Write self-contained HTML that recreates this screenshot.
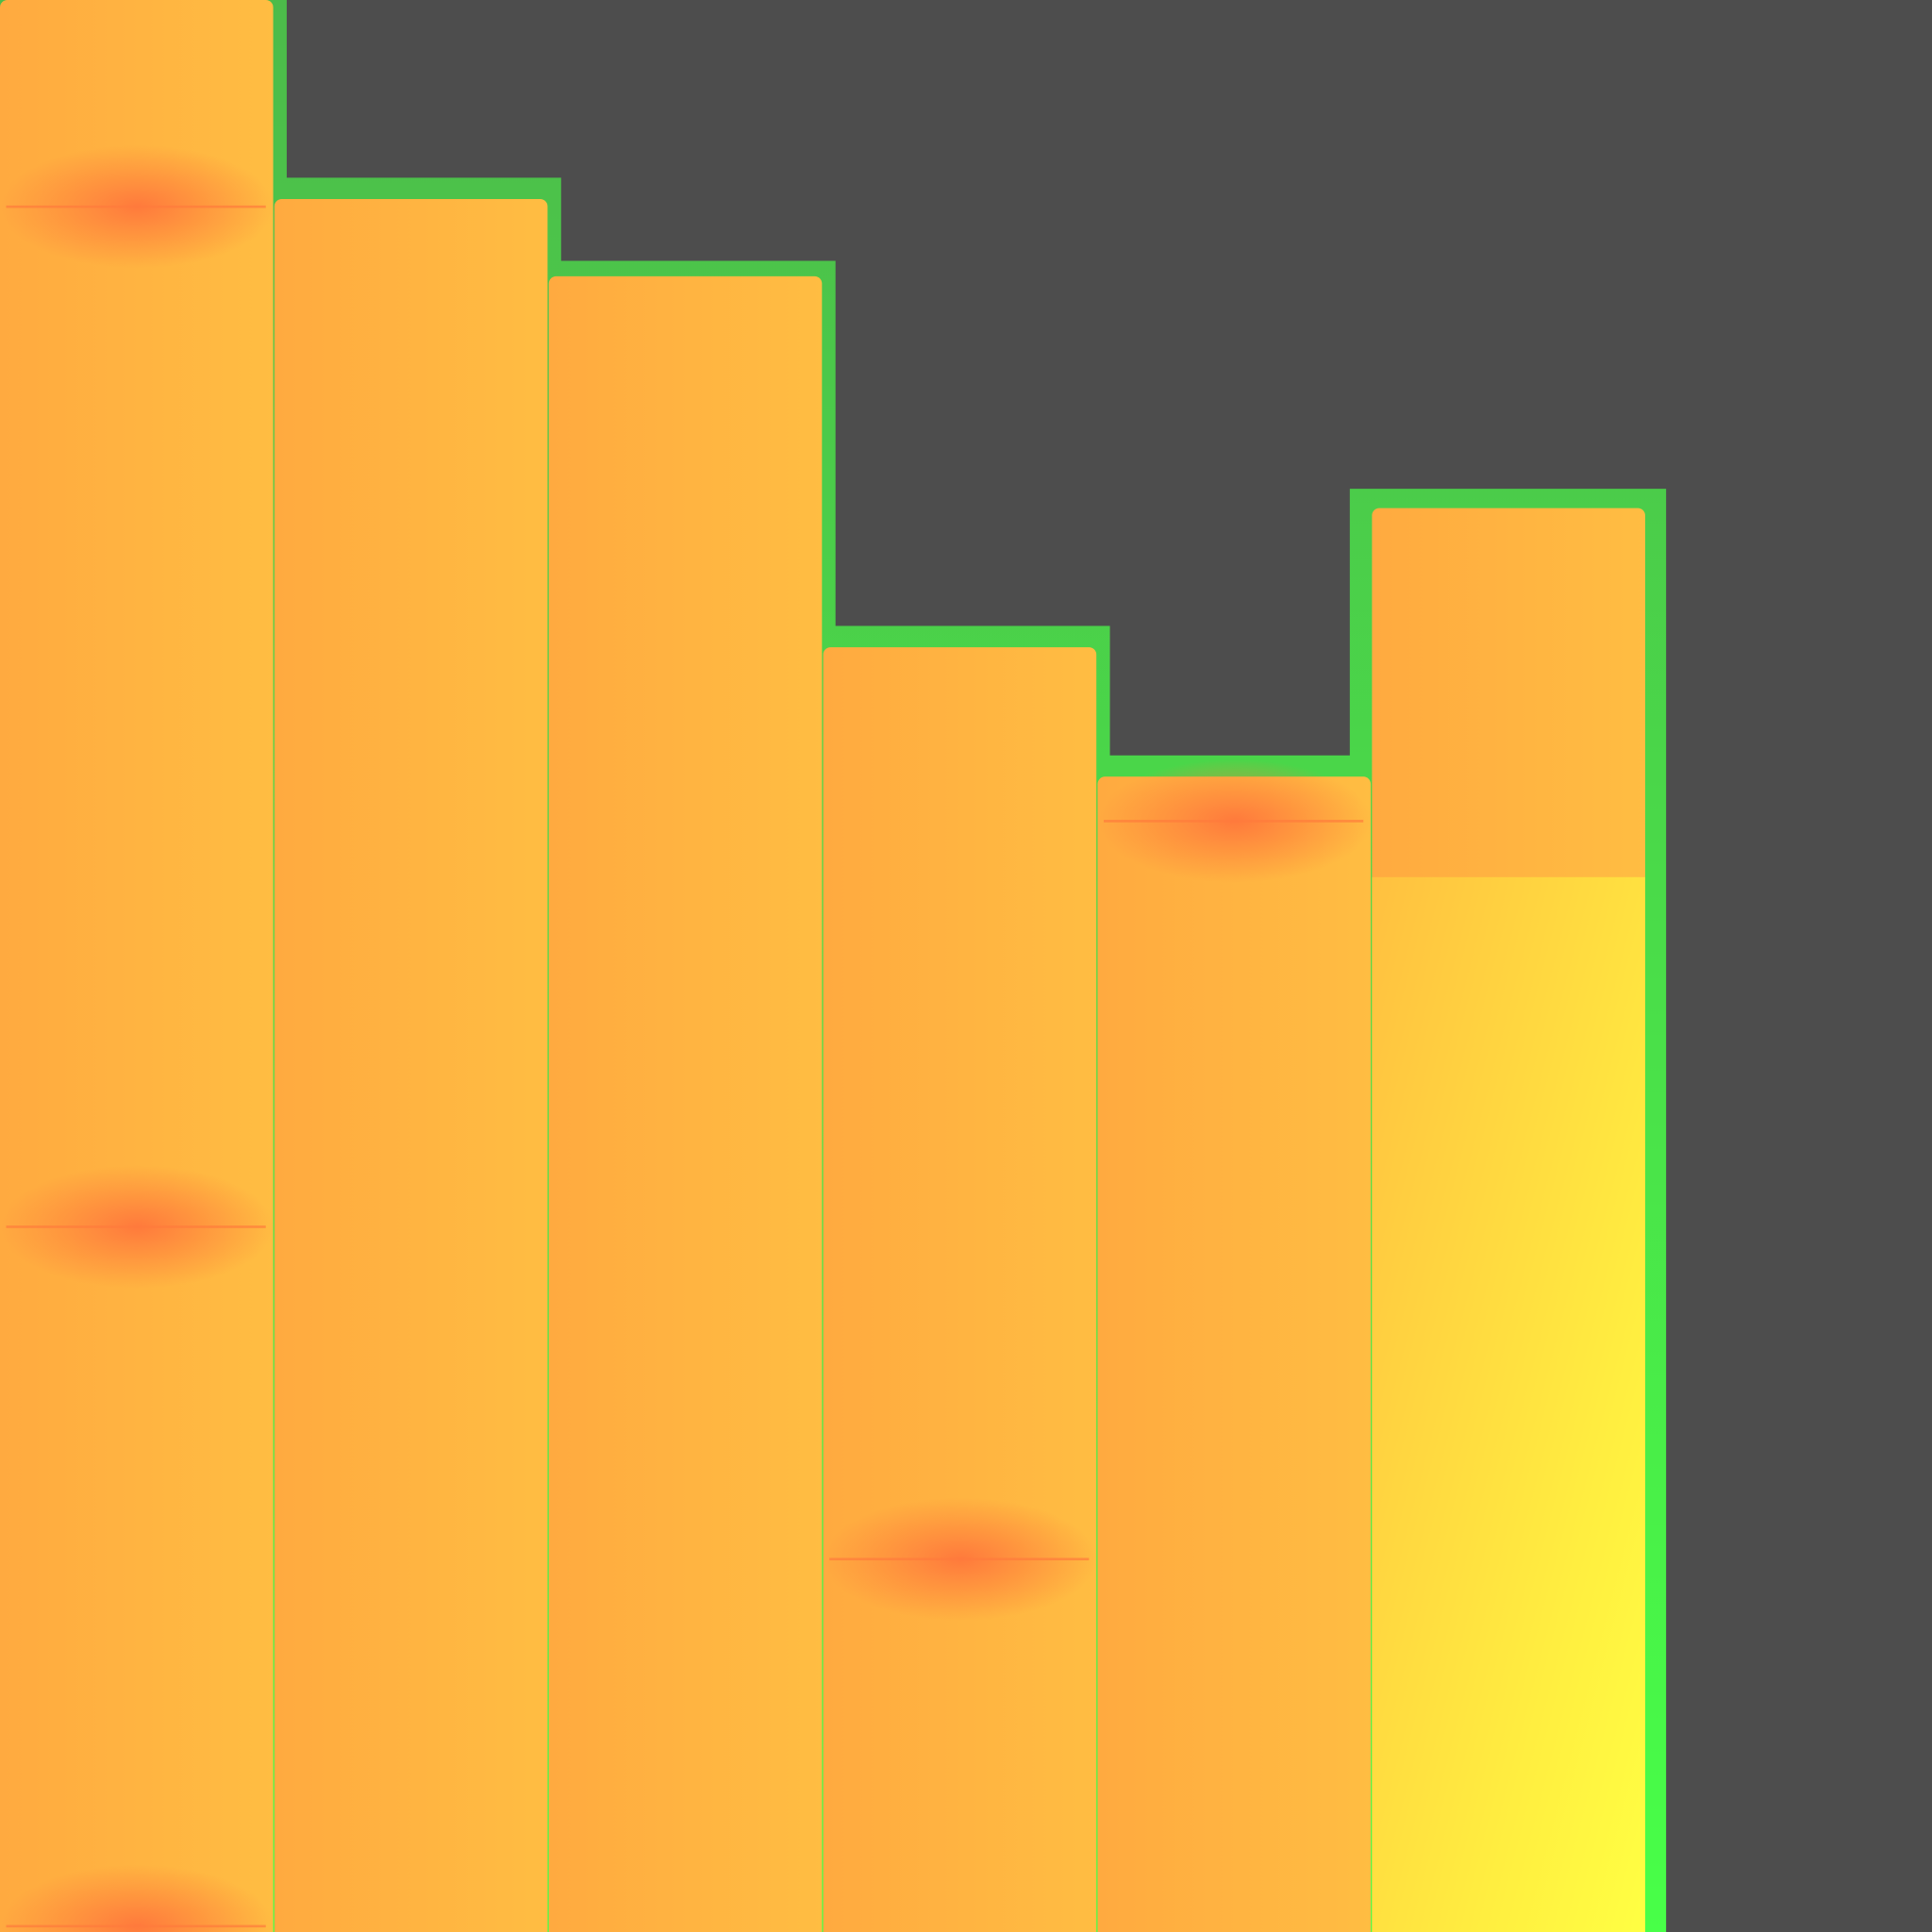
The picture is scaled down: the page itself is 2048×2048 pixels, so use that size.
<!DOCTYPE html>
<html><head><meta charset="utf-8"><style>
html,body{margin:0;padding:0;background:#4d4d4d;}
svg{display:block;}
</style></head><body>
<svg id="chart" width="2048" height="2048" viewBox="0 0 1568 1568" xmlns="http://www.w3.org/2000/svg">
<defs>
<linearGradient id="og" x1="0" y1="0" x2="1" y2="0"><stop offset="0" stop-color="#ffaa40"/><stop offset="1" stop-color="#ffbd42"/></linearGradient>
<linearGradient id="yg" x1="0" y1="0" x2="1" y2="1"><stop offset="0" stop-color="#ffc040"/><stop offset="0.7" stop-color="#ffee40"/><stop offset="1" stop-color="#ffff42"/></linearGradient>
<radialGradient id="rb" cx="0.5" cy="0.5" r="0.5"><stop offset="0" stop-color="#ff7a3c" stop-opacity="1"/><stop offset="1" stop-color="#ff7a3c" stop-opacity="0"/></radialGradient>
<linearGradient id="gg" x1="0" y1="0" x2="0" y2="1"><stop offset="0" stop-color="#4cbb4a"/><stop offset="1" stop-color="#48ff48"/></linearGradient>
</defs>
<rect width="1568" height="1568" fill="#4d4d4d"/>
<g id="outline"></g>
<g id="bars"></g>
<g id="bands"></g>
</svg>
<script>
const categories = ["A","B","C","D","E","F"];
const values = [100, 89.7, 85.7, 66.5, 59.8, 73.7];
const outlineValues = [100, 90.8, 86.5, 67.6, 60.9, 74.7];
const split = [null, null, null, null, null, 54.6];
const bandValues = [[89.3, 36.5, 0.3], [], [], [19.3], [57.5], []];

const H = 1568, left = 0, bw = 222.7;
function y(v){ return H - v/100*H; }
function x(i){ return left + i*bw; }
const NS = "http://www.w3.org/2000/svg";
const gb = document.getElementById('bars'), go = document.getElementById('outline'), gr = document.getElementById('bands');

let d = "M0 0";
outlineValues.forEach((v,i)=>{
  const up = i>0 && v>outlineValues[i-1];
  const sx = i===0 ? 0 : (up ? x(i)-18 : x(i)+10);
  d += " L" + sx + " " + y(i===0?100:outlineValues[i-1]) + " L" + sx + " " + y(v);
});
const endX = x(5)+bw+16;
d += " L" + endX + " " + y(outlineValues[5]) + " L" + endX + " " + H + " L0 " + H + " Z";
const op = document.createElementNS(NS,'path');
op.setAttribute('d', d);
op.setAttribute('fill','url(#gg)');


go.appendChild(op);

values.forEach((v,i)=>{
  const r = document.createElementNS(NS,'rect');
  r.setAttribute('x', x(i)); r.setAttribute('y', y(v));
  r.setAttribute('width', bw-1); r.setAttribute('height', H-y(v)+10);
  r.setAttribute('rx', 6);
  r.setAttribute('fill','url(#og)');
  
  
  gb.appendChild(r);
  if(split[i]!=null){
    const s = document.createElementNS(NS,'rect');
    s.setAttribute('x', x(i)); s.setAttribute('y', y(split[i]));
    s.setAttribute('width', bw-1); s.setAttribute('height', H-y(split[i]));
    s.setAttribute('fill','url(#yg)');
    
    
    gb.appendChild(s);
  }
  bandValues[i].forEach((bv)=>{
    const e = document.createElementNS(NS,'ellipse');
    e.setAttribute('cx', x(i)+bw/2); e.setAttribute('cy', y(bv));
    e.setAttribute('rx', bw/2); e.setAttribute('ry', 50);
    e.setAttribute('fill','url(#rb)');
    
    
    gr.appendChild(e);
    const l = document.createElementNS(NS,'rect');
    l.setAttribute('x', x(i)+5); l.setAttribute('y', y(bv)-1);
    l.setAttribute('width', bw-12); l.setAttribute('height', 2);
    l.setAttribute('fill','#ff7a3c'); l.setAttribute('opacity','0.7');
    
    
    gr.appendChild(l);
  });
});
</script>
</body></html>
